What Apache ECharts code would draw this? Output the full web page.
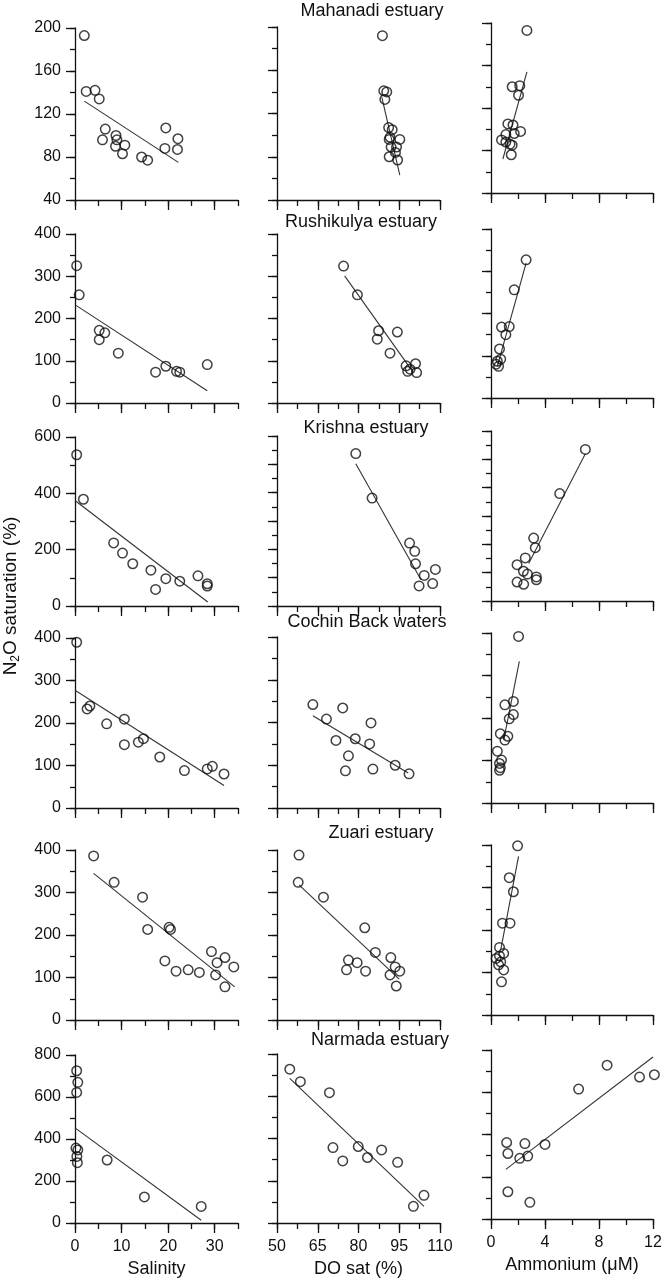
<!DOCTYPE html>
<html>
<head>
<meta charset="utf-8">
<title>N2O saturation vs salinity, DO and ammonium</title>
<script src="https://cdn.jsdelivr.net/npm/echarts@6.0.0/dist/echarts.min.js"></script>
<style>
  html, body { margin: 0; padding: 0; background: #fff; }
  #chart { width: 664px; height: 1281px; }
</style>
</head>
<body>
<div id="chart"></div>
<script>
// Panel titles, one per row
const estuaries = ['Mahanadi estuary', 'Rushikulya estuary', 'Krishna estuary',
  'Cochin Back waters', 'Zuari estuary', 'Narmada estuary'];

// x-axis tick labels (only printed on the bottom row, long ticks on every row)
const salinityTicks = [0, 10, 20, 30];
const doSatTicks = [50, 65, 80, 95, 110];
const ammoniumTicks = [0, 4, 8, 12];

// y-axis tick labels per row (first column only)
const mahanadiTicks = [40, 80, 120, 160, 200];
const rushikulyaTicks = [0, 100, 200, 300, 400];
const krishnaTicks = [0, 200, 400, 600];
const krishnaFineTicks = [0, 100, 200, 300, 400, 500, 600]; // long ticks, columns 2-3
const cochinTicks = [0, 100, 200, 300, 400];
const zuariTicks = [0, 100, 200, 300, 400];
const narmadaTicks = [0, 200, 400, 600, 800];

const mahanadiSal = [[2.0, 193], [2.4, 141], [4.3, 142], [5.2, 134], [5.9, 96], [6.5, 106], [8.8, 100],
  [9.0, 96], [8.7, 90], [10.7, 91], [10.2, 83], [14.3, 80], [15.6, 77], [19.3, 88], [19.5, 107], [22.1, 97], [22.0, 87]];
const mahanadiSalFit = [[2.0, 132], [22.2, 75]];
const mahanadiDO = [[88.8, 192], [89.3, 141], [90.4, 140], [89.7, 133], [91.1, 107], [92.4, 105], [91.6, 98],
  [91.3, 96], [95.2, 96], [92.0, 89], [94.0, 89], [91.3, 80], [93.6, 84], [94.4, 77]];
const mahanadiDOFit = [[88.6, 135], [95.2, 63]];
const mahanadiNH4 = [[2.66, 193], [1.57, 140], [2.13, 141], [2.04, 132], [1.25, 105], [1.63, 104], [2.19, 98],
  [1.72, 96], [1.1, 95], [0.78, 90], [1.41, 86], [1.57, 85], [1.5, 76], [1.1, 88]];
const mahanadiNH4Fit = [[0.88, 72], [2.66, 154]];

const rushikulyaSal = [[0.36, 325], [0.9, 256], [5.2, 172], [5.2, 150], [6.4, 166], [9.3, 118], [17.3, 73],
  [19.5, 87], [21.8, 75], [22.5, 73], [28.4, 91]];
const rushikulyaSalFit = [[0.2, 231], [28.4, 29]];
const rushikulyaDO = [[74.5, 324], [79.6, 256], [87.4, 171], [86.9, 151], [94.3, 168], [91.6, 118], [97.5, 88],
  [98.1, 75], [101.0, 93], [101.4, 72], [99.0, 80]];
const rushikulyaDOFit = [[74.9, 301], [100.2, 72]];
const rushikulyaNH4 = [[2.6, 327], [1.72, 256], [0.78, 168], [1.1, 150], [1.35, 169], [0.63, 116], [0.47, 87],
  [0.72, 92], [0.56, 75], [0.38, 80]];
const rushikulyaNH4Fit = [[0.47, 75], [2.6, 319]];

const krishnaSal = [[0.36, 537], [1.8, 379], [8.3, 224], [10.2, 188], [12.4, 150], [16.3, 127], [17.3, 59],
  [19.5, 97], [22.5, 88], [26.4, 107], [28.4, 79], [28.4, 71]];
const krishnaSalFit = [[0.2, 372], [28.5, 14]];
const krishnaDO = [[79.0, 538], [85.0, 381], [98.8, 222], [100.7, 193], [101.0, 149], [104.2, 108], [102.3, 71],
  [107.3, 79], [108.3, 129]];
const krishnaDOFit = [[79.0, 502], [103.0, 93]];
const krishnaNH4 = [[6.99, 535], [5.09, 379], [3.16, 222], [3.28, 188], [2.54, 152], [1.93, 128], [2.4, 105],
  [2.7, 95], [1.93, 67], [2.42, 59], [3.36, 85], [3.36, 75]];
const krishnaNH4Fit = [[2.79, 132], [6.99, 520]];

const cochinSal = [[0.36, 390], [2.6, 233], [3.2, 240], [6.8, 198], [10.6, 209], [10.6, 149], [13.6, 155],
  [14.7, 163], [18.2, 120], [23.5, 88], [28.4, 92], [29.5, 98], [32.0, 80]];
const cochinSalFit = [[0, 277], [32, 53]];
const cochinDO = [[63.2, 242], [68.2, 208], [74.2, 234], [71.7, 158], [78.8, 162], [76.3, 122], [75.2, 87],
  [84.6, 199], [84.1, 150], [85.3, 91], [93.5, 100], [98.6, 80]];
const cochinDOFit = [[63.2, 216], [98.3, 82]];
const cochinNH4 = [[2.04, 392], [1.03, 231], [1.66, 239], [1.66, 208], [1.35, 198], [1.25, 157], [1.03, 148],
  [0.69, 163], [0.47, 122], [0.78, 101], [0.63, 93], [0.69, 83], [0.63, 77]];
const cochinNH4Fit = [[0.94, 148], [2.1, 333]];

const zuariSal = [[4.0, 386], [8.4, 324], [14.5, 289], [15.6, 213], [20.2, 218], [20.5, 213], [19.3, 139],
  [21.7, 115], [24.3, 118], [26.7, 112], [29.3, 161], [30.5, 135], [30.2, 106], [32.2, 147], [32.2, 78], [34.1, 125]];
const zuariSalFit = [[4.0, 345], [34.3, 78]];
const zuariDO = [[58.1, 388], [57.8, 324], [67.1, 289], [82.3, 217], [76.3, 141], [79.5, 135], [75.6, 118],
  [82.6, 115], [86.2, 159], [91.9, 147], [93.5, 125], [91.6, 106], [95.2, 115], [93.9, 80]];
const zuariDOFit = [[58.1, 318], [95.0, 96]];
const zuariNH4 = [[1.97, 398], [1.35, 323], [1.66, 290], [0.85, 216], [1.41, 216], [0.63, 159], [0.94, 145],
  [0.38, 133], [0.72, 125], [0.56, 118], [0.94, 106], [0.78, 78], [0.63, 139]];
const zuariNH4Fit = [[0.72, 153], [2.04, 373]];

const narmadaSal = [[0.36, 725], [0.6, 670], [0.36, 622], [0.2, 357], [0.6, 348], [0.4, 317], [0.5, 287],
  [6.9, 300], [14.9, 124], [27.1, 79]];
const narmadaSalFit = [[0, 453], [27.1, 13]];
const narmadaDO = [[54.7, 728], [58.6, 669], [69.3, 617], [70.6, 357], [74.2, 294], [79.9, 362], [83.3, 310],
  [88.5, 346], [94.4, 287], [100.2, 79], [104.1, 131]];
const narmadaDOFit = [[54.7, 685], [104.1, 79]];
const narmadaNH4 = [[1.16, 362], [1.25, 310], [1.25, 129], [2.13, 287], [2.51, 357], [2.72, 298], [2.88, 79],
  [4.0, 353], [6.49, 615], [8.6, 728], [11.0, 672], [12.1, 683]];
const narmadaNH4Fit = [[1.1, 235], [12, 767]];

// Axis set-up per column and row
const xCols = [
  { min: 0, max: 35, step: 5, labels: salinityTicks, name: 'Salinity' },
  { min: 50, max: 110, step: 7.5, labels: doSatTicks, name: 'DO sat (%)' },
  { min: 0, max: 12, step: 2, labels: ammoniumTicks, name: 'Ammonium (\u03bcM)' }
];
const rows = [
  { min: 40, max: 200, steps: [20, 20, 20], labels: mahanadiTicks,
    major: [mahanadiTicks, mahanadiTicks, mahanadiTicks],
    sets: [[mahanadiSal, mahanadiSalFit], [mahanadiDO, mahanadiDOFit], [mahanadiNH4, mahanadiNH4Fit]] },
  { min: 0, max: 400, steps: [50, 50, 50], labels: rushikulyaTicks,
    major: [rushikulyaTicks, rushikulyaTicks, rushikulyaTicks],
    sets: [[rushikulyaSal, rushikulyaSalFit], [rushikulyaDO, rushikulyaDOFit], [rushikulyaNH4, rushikulyaNH4Fit]] },
  { min: 0, max: 600, steps: [100, 50, 50], labels: krishnaTicks,
    major: [krishnaTicks, krishnaFineTicks, krishnaFineTicks],
    sets: [[krishnaSal, krishnaSalFit], [krishnaDO, krishnaDOFit], [krishnaNH4, krishnaNH4Fit]] },
  { min: 0, max: 400, steps: [50, 50, 50], labels: cochinTicks,
    major: [cochinTicks, cochinTicks, cochinTicks],
    sets: [[cochinSal, cochinSalFit], [cochinDO, cochinDOFit], [cochinNH4, cochinNH4Fit]] },
  { min: 0, max: 400, steps: [50, 50, 50], labels: zuariTicks,
    major: [zuariTicks, zuariTicks, zuariTicks],
    sets: [[zuariSal, zuariSalFit], [zuariDO, zuariDOFit], [zuariNH4, zuariNH4Fit]] },
  { min: 0, max: 800, steps: [100, 100, 100], labels: narmadaTicks,
    major: [narmadaTicks, narmadaTicks, narmadaTicks],
    sets: [[narmadaSal, narmadaSalFit], [narmadaDO, narmadaDOFit], [narmadaNH4, narmadaNH4Fit]] }
];

// Layout (pixels): the scanned panels sit slightly unevenly
const colLeft = [75, 277, 491];
const colWidth = [163, 163, 162];
const panelTop = [[28, 27, 23], [234, 234, 229], [437, 436, 431], [638, 637, 633], [850, 850, 845], [1055, 1054, 1050]];
const panelBottom = [[200, 200, 193], [403, 403, 398], [606, 606, 601], [808, 808, 803], [1020, 1020, 1015], [1223, 1223, 1219]];
const titlePos = [[372, 11], [361, 222], [366, 428], [367, 622], [381, 833], [380, 1040]];

const FONT = '"Liberation Sans", Arial, sans-serif';
const INK = '#111';
const axisLineStyle = { color: INK, width: 1.3 };

const pick = (list) => (v) => list.some(t => Math.abs(t - v) < 1e-6) ? String(v) : '';

const option = {
  animation: false,
  backgroundColor: '#fff',
  grid: [], xAxis: [], yAxis: [], series: [], graphic: []
};
// second set of axes per panel only carries the long (major) ticks
const xMajor = [];
const yMajor = [];

rows.forEach((row, r) => {
  const lastRow = r === rows.length - 1;
  for (let c = 0; c < 3; c++) {
    const idx = r * 3 + c;
    const xc = xCols[c];
    option.grid.push({
      left: colLeft[c], width: colWidth[c],
      top: panelTop[r][c], height: panelBottom[r][c] - panelTop[r][c],
      containLabel: false, outerBoundsMode: 'none'
    });
    option.xAxis.push({
      type: 'value', gridIndex: idx, position: 'bottom', min: xc.min, max: xc.max, interval: xc.step,
      axisLine: { show: true, onZero: false, lineStyle: axisLineStyle },
      axisTick: { show: true, length: 6, lineStyle: axisLineStyle },
      splitLine: { show: false },
      axisLabel: { show: lastRow, formatter: pick(xc.labels), margin: 16,
        fontSize: 16, color: INK, fontFamily: FONT, hideOverlap: false },
      name: lastRow ? xc.name : '', nameLocation: 'middle', nameGap: 37,
      nameTextStyle: { fontSize: 18, color: INK, fontFamily: FONT }
    });
    xMajor.push({
      type: 'value', gridIndex: idx, position: 'bottom', min: xc.min, max: xc.max,
      axisLine: { show: false }, axisLabel: { show: false }, splitLine: { show: false },
      axisTick: { show: true, length: 10, customValues: xc.labels, lineStyle: axisLineStyle }
    });
    option.yAxis.push({
      type: 'value', gridIndex: idx, position: 'left', min: row.min, max: row.max, interval: row.steps[c],
      axisLine: { show: true, onZero: false, lineStyle: axisLineStyle },
      axisTick: { show: true, length: 5, lineStyle: axisLineStyle },
      splitLine: { show: false },
      axisLabel: { show: c === 0, formatter: pick(row.labels), margin: 14,
        fontSize: 16, color: INK, fontFamily: FONT, hideOverlap: false }
    });
    yMajor.push({
      type: 'value', gridIndex: idx, position: 'left', min: row.min, max: row.max,
      axisLine: { show: false }, axisLabel: { show: false }, splitLine: { show: false },
      axisTick: { show: true, length: 9, customValues: row.major[c], lineStyle: axisLineStyle }
    });
    const [pts, fit] = row.sets[c];
    option.series.push({
      type: 'line', xAxisIndex: idx, yAxisIndex: idx, data: fit,
      showSymbol: false, silent: true, z: 1,
      lineStyle: { color: '#333', width: 1.1 }
    });
    option.series.push({
      type: 'scatter', xAxisIndex: idx, yAxisIndex: idx, data: pts,
      symbol: 'circle', symbolSize: 9.5, clip: false, silent: true, z: 2,
      itemStyle: { color: 'rgba(0,0,0,0)', borderColor: INK, borderWidth: 1.5 }
    });
  }
  option.graphic.push({
    type: 'text', x: titlePos[r][0], y: titlePos[r][1], silent: true,
    style: { text: estuaries[r], fill: INK, font: '18px ' + FONT, align: 'center', verticalAlign: 'middle' }
  });
});
option.xAxis = option.xAxis.concat(xMajor);
option.yAxis = option.yAxis.concat(yMajor);

// Shared y-axis title, rotated, with subscript 2
option.graphic.push({
  type: 'text', x: 11, y: 596, rotation: Math.PI / 2, silent: true,
  style: {
    text: '{a|N}{b|2}{a|O saturation (%)}',
    align: 'center', verticalAlign: 'middle', fill: INK,
    rich: {
      a: { fontSize: 19, fontFamily: FONT, fill: INK, lineHeight: 22, verticalAlign: 'middle' },
      b: { fontSize: 12, fontFamily: FONT, fill: INK, lineHeight: 22, verticalAlign: 'bottom' }
    }
  }
});

const chart = echarts.init(document.getElementById('chart'), null, { renderer: 'canvas' });
chart.setOption(option);
</script>
</body>
</html>
